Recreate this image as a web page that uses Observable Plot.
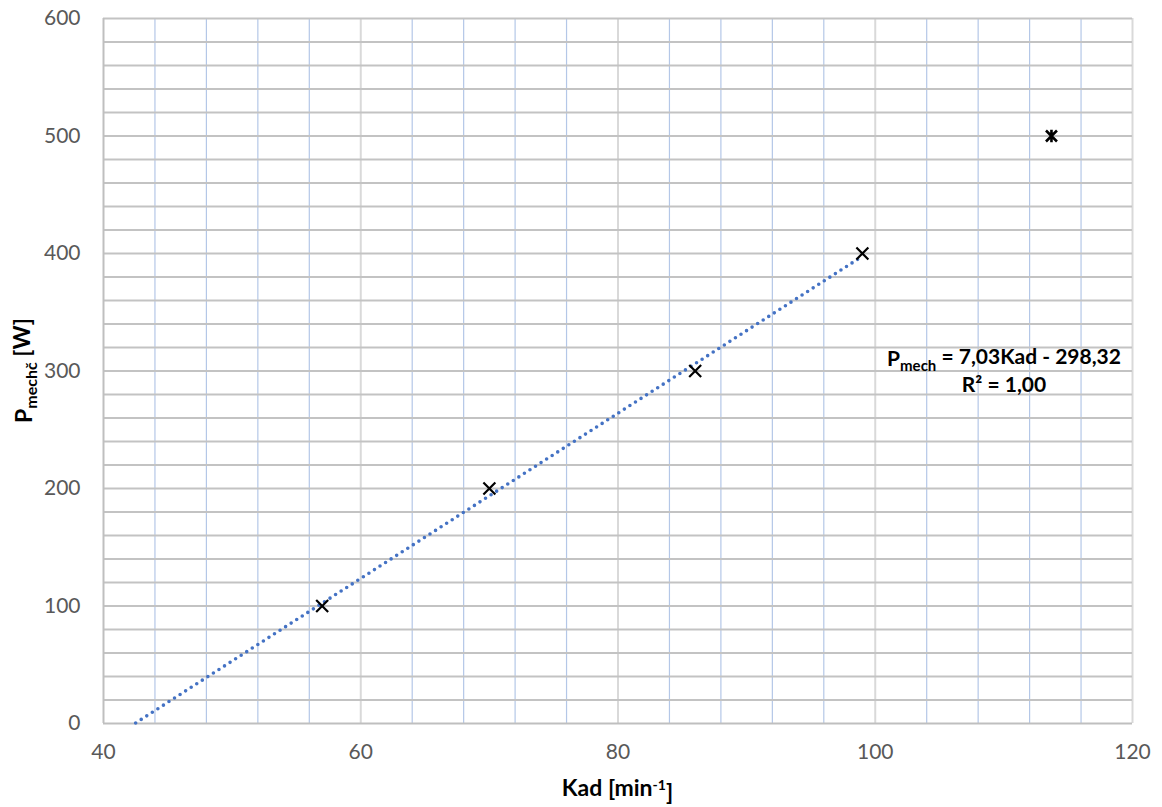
<!DOCTYPE html>
<html>
<head>
<meta charset="utf-8">
<script src="https://cdn.jsdelivr.net/npm/d3@7"></script>
<script src="https://cdn.jsdelivr.net/npm/@observablehq/plot@0.6"></script>
<style>
  html, body { margin: 0; padding: 0; background: #fff; }
  #chart svg { display: block; }
</style>
</head>
<body>
<div id="chart"></div>
<script>
// ---- data ----
const kad = [57, 70, 86, 99];          // Kad [min^-1]
const pmech = [100, 200, 300, 400];    // P_mech [W]
const kadExtra = [113.7];              // separate point (star marker)
const pmechExtra = [500];
const slope = 7.03;
const intercept = -298.32;
const trendKad = [42.5, 99];           // extent of the trendline
const xTicks = [40, 60, 80, 100, 120];
const yTicks = [0, 100, 200, 300, 400, 500, 600];
const eqLine1 = ["P", "mech", " = 7,03Kad - 298,32"];
const eqLine2 = "R² = 1,00";
const eqPos = {x: 110.05, y1: 310, y2: 288};

const points = kad.map((k, i) => ({k, p: pmech[i]}));
const extra = kadExtra.map((k, i) => ({k, p: pmechExtra[i]}));
const trend = trendKad.map(k => ({k, p: slope * k + intercept}));

const star = {
  draw(context, size) {
    const r = Math.sqrt(size) * 0.62;
    context.moveTo(-r, -r); context.lineTo(r, r);
    context.moveTo(-r, r); context.lineTo(r, -r);
    context.moveTo(0, -r * 1.15); context.lineTo(0, r * 1.15);
  }
};

const minorX = d3.range(40, 121, 4).filter(v => v % 20 !== 0);
const majorX = d3.range(60, 121, 20);
const gridY = d3.range(20, 601, 20);

const FONT = "Lato, 'Liberation Sans', sans-serif";

const chart = Plot.plot({
  width: 1162,
  height: 807,
  marginLeft: 103,
  marginRight: 30,
  marginTop: 18,
  marginBottom: 84,
  style: {fontFamily: FONT, fontSize: "21px", color: "#595959", background: "#fff"},
  x: {domain: [40, 120]},
  y: {domain: [0, 600]},
  marks: [
    Plot.ruleX(minorX, {stroke: "#b4c7e7", strokeWidth: 1.2}),
    Plot.ruleX(majorX, {stroke: "#d9d9d9", strokeWidth: 2}),
    Plot.ruleY(gridY, {stroke: "#c3c3c3", strokeWidth: 2}),
    Plot.ruleX([40], {stroke: "#bfbfbf", strokeWidth: 2}),
    Plot.ruleY([0], {stroke: "#bfbfbf", strokeWidth: 2}),
    Plot.axisX({ticks: xTicks, tickSize: 0, tickPadding: 21, label: null, tickFormat: d => String(d)}),
    Plot.axisY({ticks: yTicks, tickSize: 0, tickPadding: 23, label: null, tickFormat: d => String(d)}),
    Plot.line(trend, {x: "k", y: "p", stroke: "#4472c4", strokeWidth: 3.6, strokeDasharray: "0,6.6", strokeLinecap: "round"}),
    Plot.dot(points, {x: "k", y: "p", symbol: "times", r: 5.5, stroke: "#000", strokeWidth: 2.2}),
    Plot.dot(extra, {x: "k", y: "p", symbol: star, r: 5, stroke: "#000", strokeWidth: 2.6})
  ]
});

document.getElementById("chart").appendChild(chart);

const svg = d3.select(chart);
const xs = chart.scale("x"), ys = chart.scale("y");
const [x0, x1] = xs.range, [y0, y1] = ys.range;

// x axis title
const xt = svg.append("text")
  .attr("x", (x0 + x1) / 2).attr("y", 796)
  .attr("text-anchor", "middle")
  .style("font-family", FONT).style("font-weight", "bold").style("font-size", "23px").attr("fill", "#000");
xt.append("tspan").text("Kad [min");
xt.append("tspan").attr("dy", "-0.45em").style("font-size", "14px").text("-1");
xt.append("tspan").attr("dy", "0.45em").text("]");

// y axis title
const yt = svg.append("text")
  .attr("transform", `translate(32,${(y0 + y1) / 2}) rotate(-90)`)
  .attr("text-anchor", "middle")
  .style("font-family", FONT).style("font-weight", "bold").style("font-size", "23px").attr("fill", "#000");
yt.append("tspan").text("P");
yt.append("tspan").attr("dy", "0.3em").style("font-size", "16px").text("mechč");
yt.append("tspan").attr("dy", "-0.3em").text(" [W]");

// trendline equation
const eq = svg.append("g")
  .style("font-family", FONT).style("font-weight", "bold").style("font-size", "21px").attr("fill", "#000")
  .attr("text-anchor", "middle");
const e1 = eq.append("text").attr("x", xs.apply(eqPos.x)).attr("y", ys.apply(eqPos.y1)).attr("dy", "0.35em");
e1.append("tspan").text(eqLine1[0]);
e1.append("tspan").attr("dy", "0.3em").style("font-size", "15px").text(eqLine1[1]);
e1.append("tspan").attr("dy", "-0.3em").text(eqLine1[2]);
eq.append("text").attr("x", xs.apply(eqPos.x)).attr("y", ys.apply(eqPos.y2)).attr("dy", "0.35em").text(eqLine2);
</script>
</body>
</html>
